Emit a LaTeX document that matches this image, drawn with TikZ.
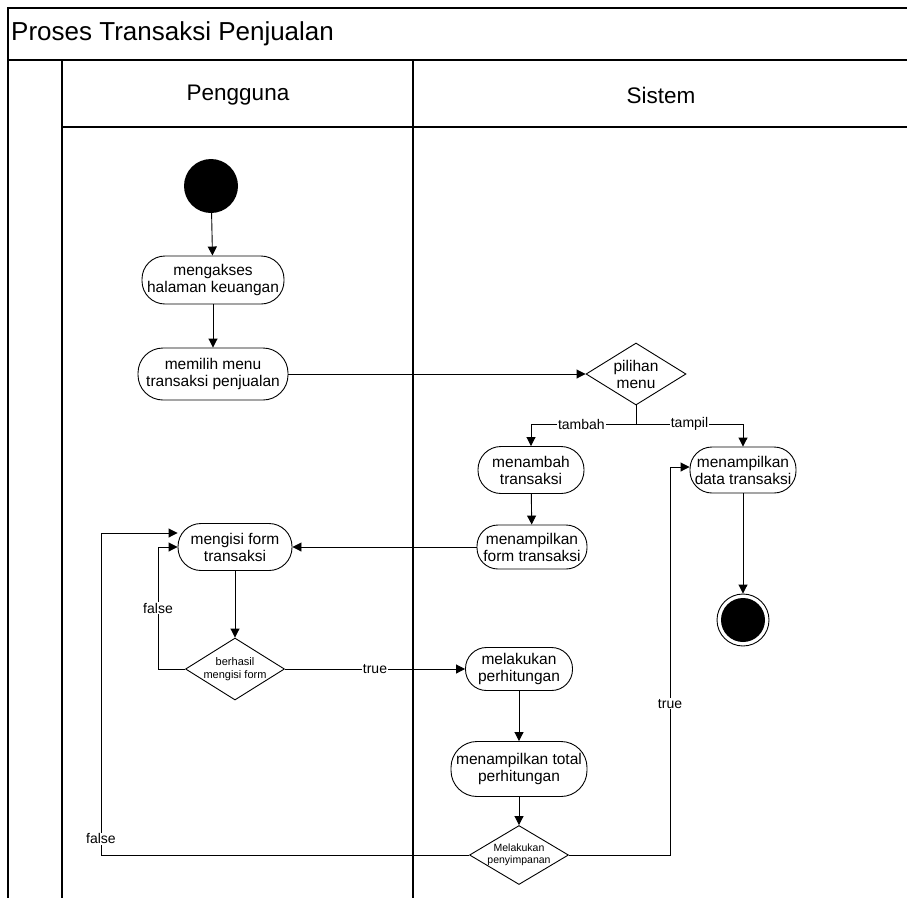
\documentclass[tikz,border=0pt]{standalone}
\usepackage{fontspec}
\setmainfont{Liberation Sans}
\usetikzlibrary{arrows.meta,shapes.geometric,calc}
\begin{document}
\begin{tikzpicture}[x=1pt,y=-1pt,
  frame/.style={line width=1.3pt,draw=black},
  conn/.style={line width=0.9pt,draw=black},
  arr/.style={conn,-{Triangle[length=9pt,width=9pt]}},
  act/.style={draw,line width=0.9pt,rounded corners=21pt,minimum width=#1,minimum height=44pt,inner sep=0pt,align=center,font=\fontsize{15.5}{17}\selectfont},
  act/.default=108pt,
  dec/.style={draw,line width=0.9pt,diamond,minimum width=100pt,minimum height=62pt,inner sep=0pt},
  lbl/.style={fill=white,inner sep=1pt,font=\fontsize{14}{15}\selectfont},
  lane/.style={font=\fontsize{22.5}{24}\selectfont}
]
\useasboundingbox (0,0) rectangle (907,897);
% frame
\draw[frame] (8,910) -- (8,8) -- (912,8);
\draw[frame] (8,60) -- (912,60);
\draw[frame] (62,60) -- (62,910);
\draw[frame] (413,60) -- (413,910);
\draw[frame] (62,127) -- (912,127);
\node[anchor=west,inner sep=0pt,font=\fontsize{26}{28}\selectfont] (title) at (11,34) {Proses Transaksi Penjualan};
\node[lane] (hp) at (238,95) {Pengguna};
\node[lane] (hs) at (661,95) {Sistem};

% nodes
\node[circle,fill=black,minimum size=54pt,inner sep=0pt] (start) at (211,186) {};
\node[act=142pt,minimum height=48pt,rounded corners=23pt] (a1) at (213,280) {mengakses\\halaman keuangan};
\node[act=150pt,minimum height=52pt,rounded corners=25pt] (a2) at (213,374) {memilih menu\\transaksi penjualan};
\node[dec,label={[align=center,font=\fontsize{15.5}{17}\selectfont]center:pilihan\\menu}] (d1) at (636,374) {};
\node[act=106pt,minimum height=47pt,rounded corners=23pt] (a3) at (531,470) {menambah\\transaksi};
\node[act=106pt,minimum height=46pt,rounded corners=22pt] (a4) at (743,470) {menampilkan\\data transaksi};
\node[act=110pt,minimum height=44pt] (a5) at (532,547) {menampilkan\\form transaksi};
\node[circle,draw,line width=0.9pt,minimum size=52pt,inner sep=0pt] (end) at (743,620) {};
\node[circle,fill=black,minimum size=44pt,inner sep=0pt] (endin) at (end) {};
\node[act=114pt,minimum height=47pt,rounded corners=23pt] (a6) at (235,547) {mengisi form\\transaksi};
\node[dec,minimum width=99pt,label={[align=center,font=\fontsize{11}{13}\selectfont]center:berhasil\\mengisi form}] (d2) at (235,669) {};
\node[act=107pt,minimum height=43pt] (a7) at (519,669) {melakukan\\perhitungan};
\node[act=136pt,minimum height=55pt,rounded corners=26pt] (a8) at (519,769) {menampilkan total\\perhitungan};
\node[dec,minimum width=99pt,minimum height=59pt,label={[align=center,font=\fontsize{10.5}{12.5}\selectfont]center:Melakukan\\penyimpanan}] (d3) at (519,855) {};

% coordinates
\coordinate (br) at (636,424);
\coordinate (c1) at (670,855);
\coordinate (c2) at (101,855);
\coordinate (c3) at (158,669);
\coordinate (a6t) at ($(a6.west)+(0,-14)$);
\coordinate (a4t) at ($(a4.west)+(0,-3)$);

% connectors
\draw[arr] (start) -- (a1);
\draw[arr] (a1) -- (a2);
\draw[arr] (a2.east) -- (d1.west);
\draw[conn] (d1.south) -- (br);
\draw[arr] (br) -| node[lbl,pos=0.26]{tambah} (a3.north);
\draw[arr] (br) -| node[lbl,pos=0.25]{tampil} (a4.north);
\draw[arr] (a3) -- (a5);
\draw[arr] (a4) -- (end);
\draw[arr] (a5.west) -- (a6.east);
\draw[arr] (a6) -- (d2);
\draw[arr] (d2.west) -- (c3) -- node[lbl,pos=0.5]{false} (c3 |- a6.west) -- (a6.west);
\draw[arr] (d2.east) -- node[lbl,pos=0.5]{true} (a7.west);
\draw[arr] (a7) -- (a8);
\draw[arr] (a8) -- (d3);
\draw[arr] (d3.east) -- (c1) -- node[lbl,pos=0.39]{true} (c1 |- a4t) -- (a4t);
\draw[arr] (d3.west) -- (c2) -- node[lbl,pos=0.05]{false} (c2 |- a6t) -- (a6t);
\end{tikzpicture}
\end{document}
